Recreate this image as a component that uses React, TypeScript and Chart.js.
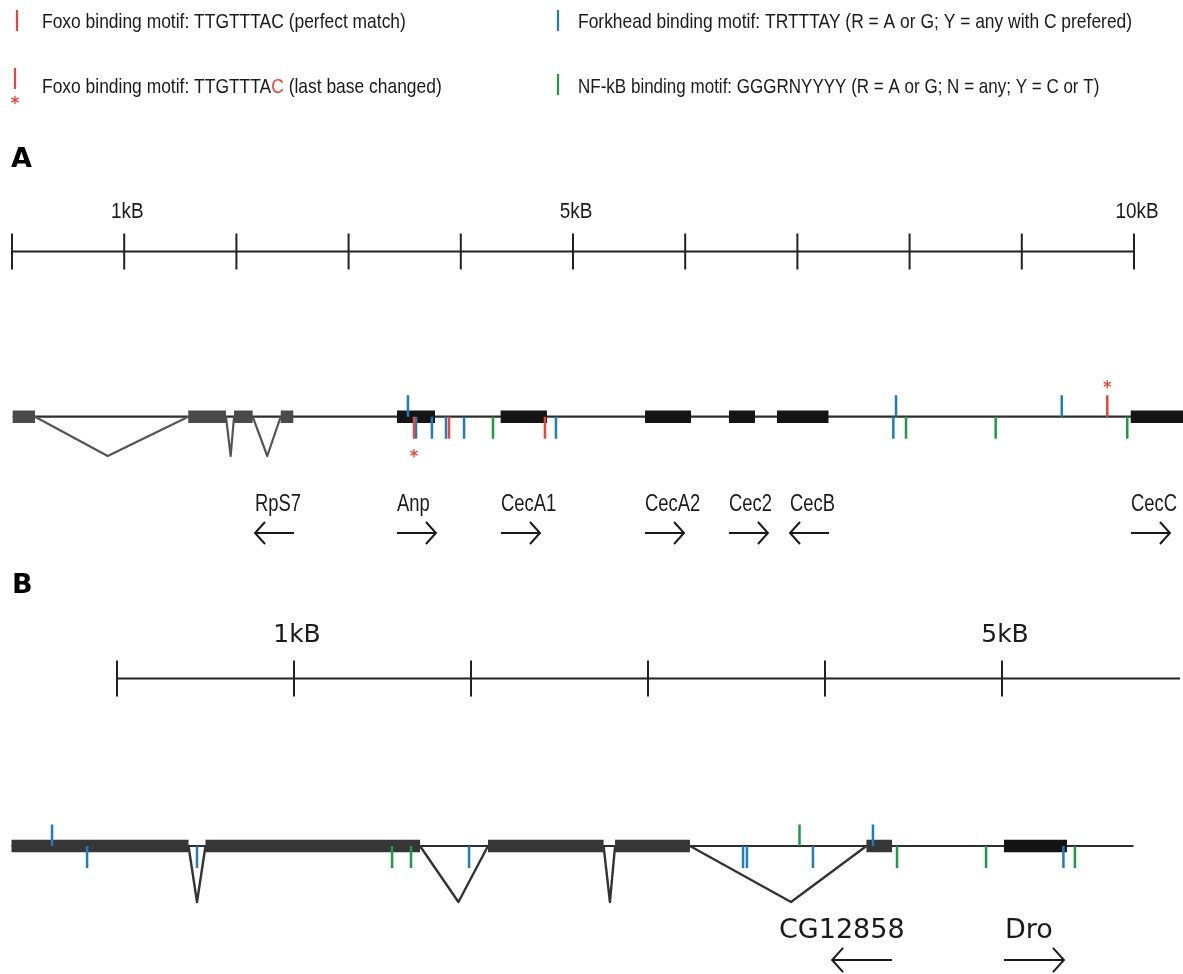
import React, { useEffect, useRef } from "react";
import { Chart, registerables } from "chart.js";

Chart.register(...registerables);

// ---------------- DATA (positions in bp) ----------------
// Panel A ruler
const rulerATicksKb = [0, 1, 2, 3, 4, 5, 6, 7, 8, 9, 10];
const rulerALabelKb = [1, 5, 10];
const rulerALabels = ["1kB", "5kB", "10kB"];
// Panel A gene model
const backboneA: [number, number] = [6, 10460];
const rps7ExonsA: [number, number][] = [[6, 205], [1571, 1907], [1979, 2145], [2395, 2507]];
const rps7IntronsA: [number, number, number][] = [[205, 853, 1571], [1907, 1949, 1979], [2145, 2275, 2395]];
const cecExonsA: [number, number][] = [[3431, 3770], [4355, 4768], [5642, 6052], [6390, 6622], [6818, 7277], [9971, 10460]];
// Panel A motifs
const foxoPerfectBelowA = [3895, 4750];
const foxoChangedBelowA = [3583];
const foxoChangedAboveA = [9762];
const forkheadAboveA = [3529, 7879, 9356];
const forkheadBelowA = [3601, 3743, 3868, 4029, 4848, 7855];
const nfkbBelowA = [4287, 7968, 8767, 9940];
// Panel A genes
const geneNamesA = ["RpS7", "Anp", "CecA1", "CecA2", "Cec2", "CecB", "CecC"];
const geneStartA = [2166, 3431, 4358, 5642, 6390, 6934, 9973];
const geneDirA = [-1, 1, 1, 1, 1, -1, 1];

// Panel B ruler
const rulerBTicksKb = [0, 1, 2, 3, 4, 5];
const rulerBEndKb = 6.006;
const rulerBLabelKb = [1, 5];
const rulerBLabels = ["1kB", "5kB"];
// Panel B gene model
const backboneB: [number, number] = [-596, 5743];
const exonsB: [number, number][] = [[-596, 404], [500, 1712], [2096, 2749], [2814, 3237], [4234, 4379]];
const droExonB: [number, number][] = [[5011, 5367]];
const intronsB: [number, number, number][] = [[404, 452, 500], [1712, 1929, 2096], [2749, 2785, 2814], [3237, 3808, 4234]];
// Panel B motifs
const forkheadAboveB = [-367, 4271];
const forkheadBelowB = [-169, 452, 1989, 3537, 3559, 3932, 5347];
const nfkbAboveB = [3856];
const nfkbBelowB = [1554, 1661, 4407, 4910, 5412];
// Panel B genes
const geneNamesB = ["CG12858", "Dro"];
const geneLabelB = [3740, 5017];
const geneStartB = [4040, 5011];
const geneDirB = [-1, 1];

// Legend texts
const legendFoxo1 = "Foxo binding motif: TTGTTTAC (perfect match)";
const legendFoxo2a = "Foxo binding motif: TTGTTTA";
const legendFoxo2b = "C";
const legendFoxo2c = " (last base changed)";
const legendFork = "Forkhead binding motif: TRTTTAY (R = A or G; Y = any with C prefered)";
const legendNfkb = "NF-kB binding motif: GGGRNYYYY (R = A or G; N = any; Y = C or T)";

// ---------------- STYLE / LAYOUT ----------------
const W = 1183;
const H = 974;
const RED = "#e8453c";
const BLUE = "#1f7cc2";
const GREEN = "#1d9a48";
const DARK = "#2e2e2e";

const PX_PER_BP_A = 0.1122;
const ORIGIN_A = 12;
const PX_PER_BP_B = 0.177;
const ORIGIN_B = 117;

const L = {
  rulerA: 251.5,
  rulerALabel: 218,
  trackA: 416.7,
  apexA: 456,
  geneLabelA: 511,
  arrowA: 533,
  rulerB: 678.5,
  rulerBLabel: 642,
  trackB: 846,
  apexB: 902,
  geneLabelB: 938,
  arrowB: 960,
  tickHalf: 18,
  stubUp: 21.5,
  stubDown: 22,
};

type P = { x: number; y: number | null };

function hSegs(list: [number, number][], y: number): P[] {
  const out: P[] = [];
  for (const [a, b] of list) out.push({ x: a, y }, { x: b, y }, { x: b, y: null });
  return out;
}
function vStubs(xs: number[], y0: number, y1: number): P[] {
  const out: P[] = [];
  for (const x of xs) out.push({ x, y: y0 }, { x, y: y1 }, { x, y: null });
  return out;
}
function vees(list: [number, number, number][], y: number, apex: number): P[] {
  const out: P[] = [];
  for (const [a, m, b] of list) out.push({ x: a, y }, { x: m, y: apex }, { x: b, y }, { x: b, y: null });
  return out;
}

function ds(data: P[], xAxisID: string, color: string, width: number, order: number, extra: any = {}) {
  return {
    type: "line" as const,
    data,
    xAxisID,
    yAxisID: "y",
    borderColor: color,
    backgroundColor: color,
    borderWidth: width,
    pointRadius: 0,
    pointHoverRadius: 0,
    fill: false,
    tension: 0,
    spanGaps: false,
    borderCapStyle: "butt",
    borderJoinStyle: "miter",
    order,
    ...extra,
  };
}

function drawText(ctx: CanvasRenderingContext2D, s: string, x: number, y: number, font: string, color: string, sx = 1, align: "left" | "center" = "left") {
  ctx.save();
  ctx.font = font;
  ctx.fillStyle = color;
  ctx.textBaseline = "alphabetic";
  ctx.textAlign = "left";
  const w = ctx.measureText(s).width * sx;
  const x0 = align === "center" ? x - w / 2 : x;
  ctx.translate(x0, y);
  ctx.scale(sx, 1);
  ctx.fillText(s, 0, 0);
  ctx.restore();
  return w;
}

function drawStar(ctx: CanvasRenderingContext2D, x: number, y: number, r: number, color: string) {
  ctx.save();
  ctx.strokeStyle = color;
  ctx.lineWidth = 1.3;
  ctx.beginPath();
  for (let i = 0; i < 3; i++) {
    const a = Math.PI / 2 + (i * Math.PI) / 3;
    ctx.moveTo(x - r * Math.cos(a), y - r * Math.sin(a));
    ctx.lineTo(x + r * Math.cos(a), y + r * Math.sin(a));
  }
  ctx.stroke();
  ctx.restore();
}

function drawArrow(ctx: CanvasRenderingContext2D, x0: number, x1: number, y: number, dir: number, head: number) {
  ctx.save();
  ctx.strokeStyle = "#1a1a1a";
  ctx.lineWidth = 2;
  ctx.lineJoin = "miter";
  ctx.beginPath();
  ctx.moveTo(x0, y);
  ctx.lineTo(x1, y);
  const tip = dir > 0 ? x1 : x0;
  const back = dir > 0 ? -head : head;
  ctx.moveTo(tip + back, y - head * 1.1);
  ctx.lineTo(tip, y);
  ctx.lineTo(tip + back, y + head * 1.1);
  ctx.stroke();
  ctx.restore();
}

function vTick(ctx: CanvasRenderingContext2D, x: number, y0: number, y1: number, color: string) {
  ctx.save();
  ctx.strokeStyle = color;
  ctx.lineWidth = 2.2;
  ctx.beginPath();
  ctx.moveTo(x, y0);
  ctx.lineTo(x, y1);
  ctx.stroke();
  ctx.restore();
}

const annotatePlugin = {
  id: "annotate",
  afterDatasetsDraw(chart: any) {
    const ctx: CanvasRenderingContext2D = chart.ctx;
    const xA = chart.scales.xA;
    const xB = chart.scales.xB;
    const y = chart.scales.y;
    const NARROW = '"Liberation Sans", Arial, sans-serif';
    const WIDE = '"DejaVu Sans", Verdana, sans-serif';
    const LF = `21px ${NARROW}`;
    const LS = 0.83;

    // Legend
    vTick(ctx, 17, 10, 31, RED);
    drawText(ctx, legendFoxo1, 42, 28, LF, "#1a1a1a", LS);
    vTick(ctx, 15, 68, 89, RED);
    drawStar(ctx, 15, 100, 4.2, RED);
    let w = drawText(ctx, legendFoxo2a, 42, 93, LF, "#1a1a1a", LS);
    w += drawText(ctx, legendFoxo2b, 42 + w, 93, LF, RED, LS);
    drawText(ctx, legendFoxo2c, 42 + w, 93, LF, "#1a1a1a", LS);
    vTick(ctx, 558, 10, 31, BLUE);
    drawText(ctx, legendFork, 578, 28, LF, "#1a1a1a", LS);
    vTick(ctx, 558, 74, 95, GREEN);
    drawText(ctx, legendNfkb, 578, 93, LF, "#1a1a1a", 0.81);

    // Panel letters
    drawText(ctx, "A", 11, 167, `bold 27px ${WIDE}`, "#000");
    drawText(ctx, "B", 12, 593, `bold 27px ${WIDE}`, "#000");

    // Ruler labels
    rulerALabelKb.forEach((kb, i) => {
      drawText(ctx, rulerALabels[i], xA.getPixelForValue(kb * 1000) + 3, y.getPixelForValue(L.rulerALabel), `22px ${NARROW}`, "#1a1a1a", 0.86, "center");
    });
    rulerBLabelKb.forEach((kb, i) => {
      drawText(ctx, rulerBLabels[i], xB.getPixelForValue(kb * 1000) + 3, y.getPixelForValue(L.rulerBLabel), `25px ${WIDE}`, "#1a1a1a", 1, "center");
    });

    // Gene labels + arrows
    geneNamesA.forEach((name, i) => {
      const gx = xA.getPixelForValue(geneStartA[i]);
      drawText(ctx, name, gx, y.getPixelForValue(L.geneLabelA), `23px ${NARROW}`, "#1a1a1a", 0.8);
      drawArrow(ctx, gx, gx + 39, y.getPixelForValue(L.arrowA), geneDirA[i], 10);
    });
    geneNamesB.forEach((name, i) => {
      const lx = xB.getPixelForValue(geneLabelB[i]);
      drawText(ctx, name, lx, y.getPixelForValue(L.geneLabelB), `27px ${WIDE}`, "#1a1a1a", 1);
      const gx = xB.getPixelForValue(geneStartB[i]);
      drawArrow(ctx, gx, gx + 60, y.getPixelForValue(L.arrowB), geneDirB[i], 11);
    });

    // Asterisks for changed Foxo motifs
    foxoChangedBelowA.forEach((bp) => drawStar(ctx, xA.getPixelForValue(bp), y.getPixelForValue(L.trackA + 36.5), 4.2, RED));
    foxoChangedAboveA.forEach((bp) => drawStar(ctx, xA.getPixelForValue(bp), y.getPixelForValue(L.trackA - 32.5), 4.2, RED));
  },
};

export default function App() {
  const ref = useRef<HTMLCanvasElement | null>(null);

  useEffect(() => {
    document.body.style.margin = "0";
    document.body.style.background = "#ffffff";
    const canvas = ref.current;
    if (!canvas) return;

    const rulerATicks: P[] = [];
    rulerATicksKb.forEach((kb) => rulerATicks.push({ x: kb * 1000, y: L.rulerA - L.tickHalf }, { x: kb * 1000, y: L.rulerA + L.tickHalf }, { x: kb * 1000, y: null }));
    const rulerBTicks: P[] = [];
    rulerBTicksKb.forEach((kb) => rulerBTicks.push({ x: kb * 1000, y: L.rulerB - L.tickHalf }, { x: kb * 1000, y: L.rulerB + L.tickHalf }, { x: kb * 1000, y: null }));

    const tA = L.trackA;
    const tB = L.trackB;

    const datasets: any[] = [
      // Panel A
      ds(hSegs([[0, rulerATicksKb[rulerATicksKb.length - 1] * 1000]], L.rulerA), "xA", "#222", 2, 3),
      ds(rulerATicks, "xA", "#222", 2, 3),
      ds(hSegs([backboneA], tA), "xA", DARK, 2.2, 10),
      ds(vees(rps7IntronsA, tA, L.apexA), "xA", "#555", 2.2, 9, { borderJoinStyle: "round" }),
      ds(hSegs(rps7ExonsA, tA), "xA", "#4a4a4a", 12.6, 8),
      ds(hSegs(cecExonsA, tA), "xA", "#141414", 12.6, 8),
      ds(vStubs(forkheadAboveA, tA - L.stubUp, tA), "xA", BLUE, 2.5, 5),
      ds(vStubs(forkheadBelowA, tA, tA + L.stubDown), "xA", BLUE, 2.5, 5),
      ds(vStubs(nfkbBelowA, tA, tA + L.stubDown), "xA", GREEN, 2.5, 5),
      ds(vStubs(foxoPerfectBelowA, tA, tA + L.stubDown), "xA", RED, 2.5, 4),
      ds(vStubs(foxoChangedBelowA, tA, tA + L.stubDown), "xA", RED, 2.5, 4),
      ds(vStubs(foxoChangedAboveA, tA - L.stubUp, tA), "xA", RED, 2.5, 4),
      // Panel B
      ds(hSegs([[0, rulerBEndKb * 1000]], L.rulerB), "xB", "#222", 2, 3),
      ds(rulerBTicks, "xB", "#222", 2, 3),
      ds(hSegs([backboneB], tB), "xB", DARK, 2.2, 10),
      ds(vees(intronsB, tB, L.apexB), "xB", "#333", 2.4, 9, { borderJoinStyle: "round" }),
      ds(hSegs(exonsB, tB), "xB", "#363636", 12.6, 8),
      ds(hSegs(droExonB, tB), "xB", "#141414", 12.6, 8),
      ds(vStubs(forkheadAboveB, tB - L.stubUp, tB), "xB", BLUE, 2.5, 5),
      ds(vStubs(forkheadBelowB, tB, tB + L.stubDown), "xB", BLUE, 2.5, 5),
      ds(vStubs(nfkbAboveB, tB - L.stubUp, tB), "xB", GREEN, 2.5, 5),
      ds(vStubs(nfkbBelowB, tB, tB + L.stubDown), "xB", GREEN, 2.5, 5),
    ];

    const chart = new Chart(canvas, {
      type: "line",
      data: { datasets },
      options: {
        responsive: false,
        animation: false,
        devicePixelRatio: 1,
        events: [],
        layout: { padding: 0 },
        plugins: { legend: { display: false }, tooltip: { enabled: false }, title: { display: false } },
        scales: {
          xA: { type: "linear", display: false, min: -ORIGIN_A / PX_PER_BP_A, max: (W - ORIGIN_A) / PX_PER_BP_A },
          xB: { type: "linear", display: false, min: -ORIGIN_B / PX_PER_BP_B, max: (W - ORIGIN_B) / PX_PER_BP_B },
          y: { type: "linear", display: false, min: 0, max: H, reverse: true },
        },
      } as any,
      plugins: [annotatePlugin],
    });
    return () => chart.destroy();
  }, []);

  return (
    <div style={{ width: W, height: H, background: "#fff" }}>
      <canvas ref={ref} width={W} height={H} style={{ display: "block", width: W, height: H }} />
    </div>
  );
}
